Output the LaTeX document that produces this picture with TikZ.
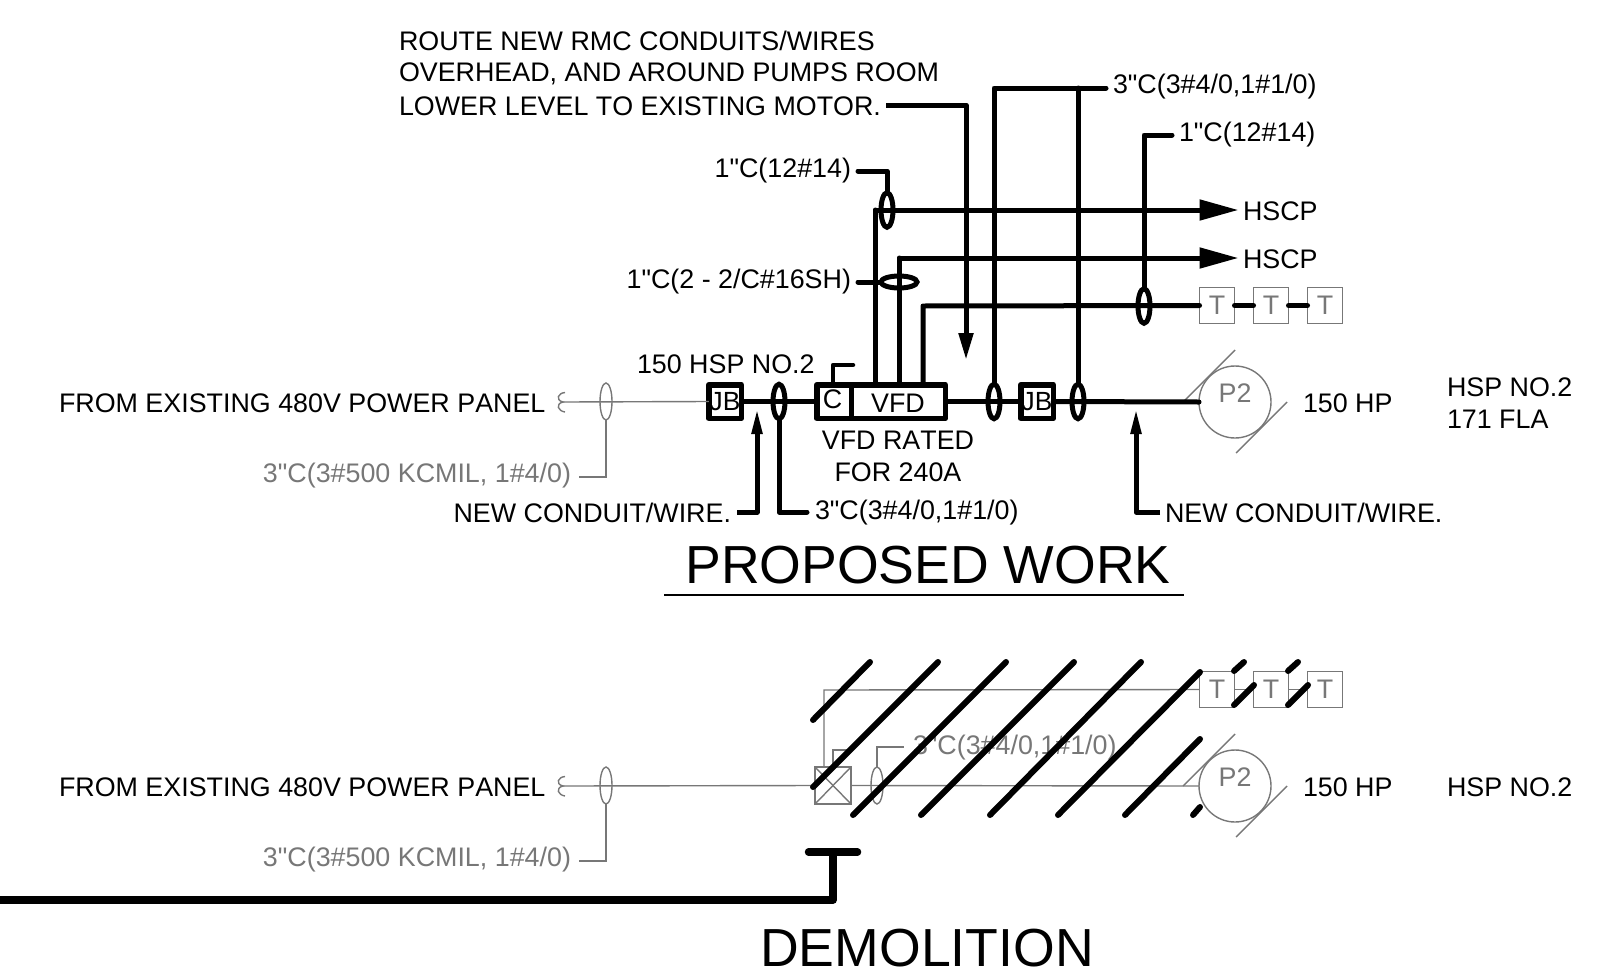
\documentclass[tikz,border=0pt]{standalone}
\usepackage{fontspec}
\newfontfamily\lib[Kerning=Off]{Liberation Sans}
\usetikzlibrary{shapes.geometric,arrows.meta}
\definecolor{dgray}{HTML}{777777}
\tikzset{
  txt/.style={inner sep=0pt,outer sep=0pt,font=\fontsize{26.85}{30}\lib,text=black},
  gtxt/.style={txt,text=dgray},
  thk/.style={draw=black,line width=5pt,line cap=round,line join=round},
  thn/.style={draw=dgray,line width=1.4pt},
  hatch/.style={draw=black,line width=6pt,line cap=round},
  boxthk/.style={draw=black,line width=5.5pt,inner sep=0pt,outer sep=0pt,rectangle,font=\fontsize{26.3}{30}\lib,line join=round},
  ovthk/.style={draw=black,line width=5pt,ellipse,inner sep=0pt,outer sep=0pt,minimum width=12pt,minimum height=34.5pt},
  ovthkh/.style={draw=black,line width=5pt,ellipse,inner sep=0pt,outer sep=0pt,minimum width=36pt,minimum height=12pt},
  ovthn/.style={draw=dgray,line width=1.4pt,ellipse,inner sep=0pt,outer sep=0pt,minimum width=12pt,minimum height=37pt},
  tbox/.style={draw=dgray,line width=1.4pt,rectangle,inner sep=0pt,outer sep=0pt,minimum width=35pt,minimum height=36pt,text=dgray,font=\fontsize{26.85}{30}\lib},
  motor/.style={draw=dgray,line width=1.4pt,circle,inner sep=0pt,outer sep=0pt,minimum size=72pt},
  arr/.style={thk,-{Triangle[length=26pt,width=10pt]},line cap=butt},
  arrb/.style={thk,-{Triangle[length=39pt,width=20pt]},line cap=butt,shorten >=4.5pt},
}
\begin{document}
\begin{tikzpicture}[x=1pt,y=-1pt]
\useasboundingbox (0,0) rectangle (1624,969);
% ---------- PROPOSED WORK ----------
\node[txt,anchor=west] (note1) at (399,41) {ROUTE NEW RMC CONDUITS/WIRES};
\node[txt,anchor=west] (note2) at (399,74) {OVERHEAD, AND AROUND PUMPS ROOM};
\node[txt,anchor=west] (note3) at (399,106) {LOWER LEVEL TO EXISTING MOTOR.};
\node[txt,anchor=west] (lfrom) at (59,403) {FROM EXISTING 480V POWER PANEL};
\node[gtxt,anchor=east] (lfeed) at (571,476) {3"C(3\#500 KCMIL, 1\#4/0)};
\node[txt,anchor=west] (lhsp) at (637,364) {150 HSP NO.2};
\node[txt,anchor=east] (lnewa) at (731,513) {NEW CONDUIT/WIRE.};
\node[txt,anchor=west] (lc3a) at (815,513) {3"C(3\#4/0,1\#1/0)};
\node[txt,anchor=west] (lnewb) at (1165,513) {NEW CONDUIT/WIRE.};
\node[txt,anchor=west] (lc3b) at (1113,87) {3"C(3\#4/0,1\#1/0)};
\node[txt,anchor=west] (lc1b) at (1179,135) {1"C(12\#14)};
\node[txt,anchor=east] (lc1a) at (851,171) {1"C(12\#14)};
\node[txt,anchor=east] (lc2) at (851,282) {1"C(2 - 2/C\#16SH)};
\node[txt,anchor=west] (hscpa) at (1243,211) {HSCP};
\node[txt,anchor=west] (hscpb) at (1243,259) {HSCP};
\node[txt] (lrated) at (898,440.5) {VFD RATED};
\node[txt] (lfor) at (898,472) {FOR 240A};
\node[txt,anchor=west] (lhp) at (1303,403) {150 HP};
\node[txt,anchor=west] (lname) at (1447,387) {HSP NO.2};
\node[txt,anchor=west] (lfla) at (1447,419) {171 FLA};
\node[txt,font=\fontsize{53.6}{60}\lib] (title1) at (928,565) {PROPOSED WORK};
\coordinate (ula) at (664,594.5);
\coordinate (ulb) at (1184,594.5);
\draw[black,line width=2pt] (ula) -- (ulb);

\node[boxthk,minimum width=32.5pt,minimum height=33.5pt] (jba) at (725,401.5) {JB};
\node[boxthk,minimum width=34.5pt,minimum height=33.5pt] (cbox) at (834,401.5) {};
\node[txt] at (832.5,399) (ctext) {C};
\node[boxthk,minimum width=94pt,minimum height=33.5pt] (vfd) at (898.25,401.5) {};
\node[txt] (vtext) at (898,403) {VFD};
\node[boxthk,minimum width=32.5pt,minimum height=33.5pt] (jbb) at (1037,401.5) {JB};
\node[motor] (pa) at (1235,402) {};
\node[gtxt] (ptexta) at (1235,393) {P2};
\node[ovthk] (ea) at (779,401.5) {};
\node[ovthk] (eb) at (994,401.5) {};
\node[ovthk] (ec) at (1078,401.5) {};
\node[ovthk] (ed) at (1144,306) {};
\node[ovthk] (ee) at (887,210) {};
\node[ovthkh] (ef) at (899,282) {};
\node[tbox] (ta) at (1217,305.5) {T};
\node[tbox] (tb) at (1271,305.5) {T};
\node[tbox] (tc) at (1325,305.5) {T};
\node[ovthn] (eg) at (606,401.5) {};

% thin feed
\coordinate (sqa) at (563,402);
\draw[thn] (sqa) -- (jba.west);
\draw[thn] (565,392.5) .. controls (558,393) and (555,400) .. (sqa) .. controls (555,404) and (558,411) .. (565,412);
\coordinate (fa) at (606,477);
\draw[thn] (eg.south) -- (fa) -- (579,477);
% slashes
\coordinate (sa1) at (1183,402); \coordinate (sa2) at (1235,350);
\coordinate (sa3) at (1287,402); \coordinate (sa4) at (1236,453);
\draw[thn] (sa1) -- (sa2);
\draw[thn] (sa3) -- (sa4);
% thick run
\draw[thk,line cap=butt] (jba.east) -- (cbox.west);
\draw[thk,line cap=butt] (vfd.east) -- (jbb.west);
\draw[thk] (jbb.east) -- (pa.west);
% below-line leaders
\coordinate (na) at (757,512); \coordinate (nb) at (757,408);
\draw[arr] (737,512) -- (na) -- (nb);
\coordinate (nc) at (1136,512); \coordinate (nd) at (1136,408);
\draw[arr] (1160,512) -- (nc) -- (nd);
\coordinate (ca) at (779,512);
\draw[thk] (ea.south) -- (ca) -- (807,512);
% C stub
\coordinate (st) at (833,365);
\draw[thk,line width=4.5pt] (cbox.north -| st) -- (st) -- (853,365);
% VFD verticals
\coordinate (va) at (875,210); \coordinate (vb) at (899,258); \coordinate (vc) at (923,306);
\draw[thk] (vfd.north -| va) -- (va);
\draw[arrb] (va) -- (hscpa.west |- va);
\draw[thk] (vfd.north -| vb) -- (vb);
\draw[arrb] (vb) -- (hscpb.west |- vb);
\draw[thk] (vfd.north -| vc) -- (vc) -- (ta.west);
% conduits up
\coordinate (ua) at (994,88); \coordinate (ub) at (1078,88);
\draw[thk] (eb.north) -- (ua) -- (1106,88);
\draw[thk] (ec.north) -- (ub);
\coordinate (uc) at (1144,135);
\draw[thk] (ed.north) -- (uc) -- (1172,135);
\coordinate (ud) at (887,171);
\draw[thk] (ee.north) -- (ud) -- (858,171);
\draw[thk] (ef.west) -- (858,282);
% T links
\draw[thk] (ta.east) -- (tb.west);
\draw[thk] (tb.east) -- (tc.west);
% routing note arrow
\coordinate (ra) at (966,105); \coordinate (rb) at (966,360);
\draw[thk,-{Triangle[length=27pt,width=14pt]},line cap=butt] (886,105) -- (ra) -- (rb);

% ---------- DEMOLITION ----------
\node[txt,anchor=west] (lfromd) at (59,787) {FROM EXISTING 480V POWER PANEL};
\node[gtxt,anchor=east] (lfeedd) at (571,860) {3"C(3\#500 KCMIL, 1\#4/0)};
\node[gtxt,anchor=west] (lc3d) at (913,747.5) {3"C(3\#4/0,1\#1/0)};
\node[txt,anchor=west] (lhpd) at (1303,787) {150 HP};
\node[txt,anchor=west] (lnamed) at (1447,787) {HSP NO.2};
\node[txt,font=\fontsize{53.6}{60}\lib] (title2) at (927,948) {DEMOLITION};
\node[motor] (pd) at (1235,786) {};
\node[gtxt] (ptextd) at (1235,777) {P2};
\node[tbox] (td) at (1217,689.5) {T};
\node[tbox] (te) at (1271,689.5) {T};
\node[tbox] (tf) at (1325,689.5) {T};
\node[draw=dgray,line width=1.4pt,rectangle,inner sep=0pt,outer sep=0pt,minimum width=36pt,minimum height=37pt] (xb) at (833,785.5) {};
\draw[thn] (xb.north west) -- (xb.south east);
\draw[thn] (xb.north east) -- (xb.south west);
\node[ovthn] (eh) at (606,785.5) {};
\node[ovthn] (ei) at (877,785.5) {};
\coordinate (sqd) at (563,786);
\draw[thn] (sqd) -- (xb.west);
\draw[thn] (xb.east) -- (pd.west);
\draw[thn] (565,776.5) .. controls (558,777) and (555,784) .. (sqd) .. controls (555,788) and (558,795) .. (565,796);
\coordinate (fd) at (606,861);
\draw[thn] (eh.south) -- (fd) -- (579,861);
\coordinate (xa) at (824,690);
\draw[thn] (xb.north -| xa) -- (xa) -- (td.west);
\coordinate (xs) at (833,750);
\draw[thn] (xb.north) -- (xs) -- (848,750);
\coordinate (xl) at (877,747);
\draw[thn] (ei.north) -- (xl) -- (904,747);
\draw[thn] (td.east) -- (te.west);
\draw[thn] (te.east) -- (tf.west);
\coordinate (sd1) at (1183,786); \coordinate (sd2) at (1235,734);
\coordinate (sd3) at (1287,786); \coordinate (sd4) at (1236,837);
\draw[thn] (sd1) -- (sd2);
\draw[thn] (sd3) -- (sd4);
% hatching
\draw[hatch] (813,720) -- (870,662);
\draw[hatch] (813,787) -- (938,662);
\draw[hatch] (853,815) -- (1006,662);
\draw[hatch] (921,815) -- (1074,662);
\draw[hatch] (990,815) -- (1141,662);
\draw[hatch] (1058,815) -- (1200,672);
\draw[hatch] (1125,815) -- (1200,739);
\draw[hatch] (1193,815) -- (1200,807);
\draw[hatch] (1234,671) -- (1244,662);
\draw[hatch] (1234,705) -- (1254,685);
\draw[hatch] (1288,671) -- (1298,662);
\draw[hatch] (1288,705) -- (1308,685);
% leader
\coordinate (ba) at (833,852); \coordinate (bb) at (833,900);
\draw[draw=black,line width=7.5pt,line cap=round] (808.5,852) -- (857.5,852);
\draw[draw=black,line width=7.5pt,line join=round] (ba) -- (bb) -- (0,900);
\end{tikzpicture}
\end{document}
